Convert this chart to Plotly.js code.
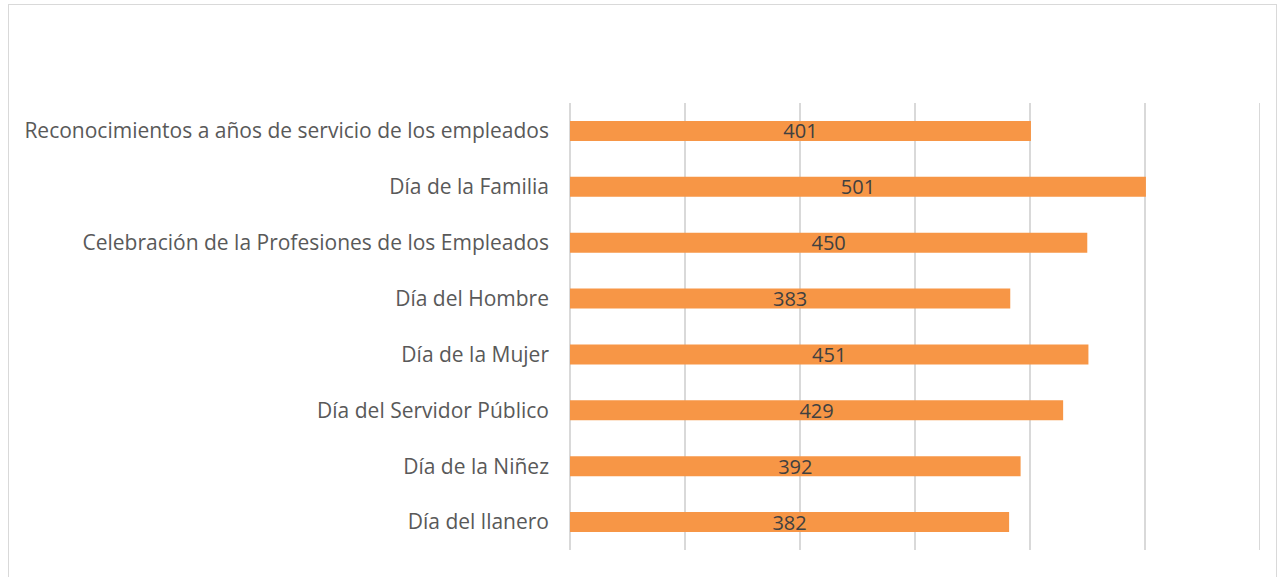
<!DOCTYPE html>
<html>
<head>
<meta charset="utf-8">
<script src="https://cdn.plot.ly/plotly-3.0.1.min.js"></script>
<style>
html,body{margin:0;padding:0;background:#fff;overflow:hidden;width:1286px;height:577px;}
#frame{position:absolute;left:8px;top:4px;width:1269px;height:600px;border:1.5px solid #d9d9d9;box-sizing:border-box;}
#chart{position:absolute;left:0;top:0;width:1286px;height:577px;}
</style>
</head>
<body>
<div id="frame"></div>
<div id="chart"></div>
<script>
const categories = [
  "Reconocimientos a años de servicio de los empleados",
  "Día de la Familia",
  "Celebración de la Profesiones de los Empleados",
  "Día del Hombre",
  "Día de la Mujer",
  "Día del Servidor Público",
  "Día de la Niñez",
  "Día del llanero"
];
const values = [401, 501, 450, 383, 451, 429, 392, 382];

const trace = {
  type: "bar",
  orientation: "h",
  y: categories,
  x: values,
  marker: {color: "#F79646", line: {width: 0}},
  text: values.map(String),
  textposition: "inside",
  insidetextanchor: "middle",
  textangle: 0,
  textfont: {family: "Open Sans, sans-serif", size: 20, color: "#404040"},
  cliponaxis: false,
  hoverinfo: "none"
};

const layout = {
  width: 1286,
  height: 577,
  margin: {l: 570, r: 24, t: 103, b: 27},
  paper_bgcolor: "rgba(0,0,0,0)",
  plot_bgcolor: "rgba(0,0,0,0)",
  showlegend: false,
  bargap: 0.64,
  uniformtext: {mode: "show", minsize: 20},
  xaxis: {
    range: [0, 602],
    tickvals: [0, 100, 200, 300, 400, 500, 600],
    showgrid: true,
    gridcolor: "#d9d9d9",
    gridwidth: 1.5,
    zeroline: true,
    zerolinecolor: "#d9d9d9",
    zerolinewidth: 1.5,
    showticklabels: false,
    showline: false,
    fixedrange: true
  },
  yaxis: {
    autorange: "reversed",
    showgrid: false,
    showline: false,
    ticks: "",
    ticklabelstandoff: 20,
    tickfont: {family: "Open Sans, sans-serif", size: 21, color: "#595959"},
    fixedrange: true
  }
};

Plotly.newPlot("chart", [trace], layout, {displayModeBar: false, staticPlot: true});
</script>
</body>
</html>
